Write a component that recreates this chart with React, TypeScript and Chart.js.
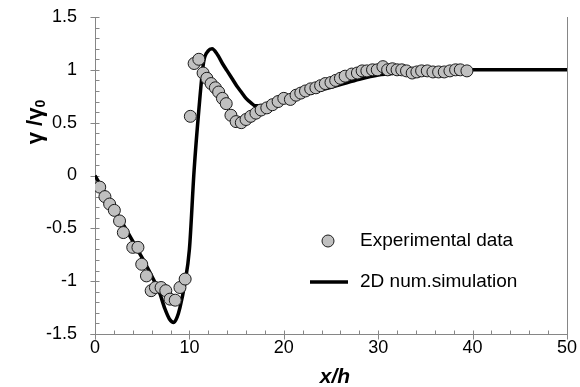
import React, { useEffect, useRef } from "react";
import { Chart, registerables } from "chart.js";

Chart.register(...registerables);

// Measured shear-rate ratio along the channel
const expX = [
  0.5, 1.05, 1.55, 2.05, 2.6, 3.0, 4.0, 4.55, 4.95, 5.45, 5.95, 6.4, 7.0, 7.5, 7.95, 8.5, 9.0, 9.55,
  10.1, 10.5, 11.0, 11.45, 11.85, 12.3, 12.75, 13.1, 13.5, 13.9, 14.4, 14.95, 15.5, 16.0, 16.5,
  17.05, 17.6, 18.2, 18.8, 19.4, 20.0, 20.7, 21.3, 21.8, 22.3, 22.85, 23.4, 23.9, 24.4, 25.0,
  25.5, 26.0, 26.5, 27.2, 27.8, 28.3, 28.8, 29.4, 29.9, 30.5, 31.0, 31.5, 32.0, 32.5, 33.0,
  33.6, 34.1, 34.6, 35.2, 35.8, 36.4, 37.0, 37.6, 38.2, 38.7, 39.4,
];
const expY = [
  -0.11, -0.2, -0.27, -0.33, -0.43, -0.54, -0.68, -0.68, -0.84, -0.95, -1.09, -1.06, -1.06, -1.09, -1.17, -1.18, -1.06, -0.98,
  0.56, 1.06, 1.1, 0.97, 0.92, 0.87, 0.83, 0.79, 0.73, 0.68, 0.57, 0.51, 0.5, 0.53, 0.56,
  0.59, 0.62, 0.64, 0.67, 0.7, 0.73, 0.72, 0.76, 0.78, 0.8, 0.82, 0.83, 0.85, 0.87, 0.88,
  0.9, 0.92, 0.94, 0.96, 0.97, 0.99, 0.99, 1.0, 1.0, 1.03, 1.0, 1.01, 1.0, 1.0, 0.99,
  0.97, 0.98, 0.99, 0.99, 0.98, 0.98, 0.98, 0.99, 1.0, 1.0, 0.99,
];

// 2D numerical simulation profile
const simX = [
  0, 2, 4, 5, 6, 6.8, 7.4, 7.9, 8.35, 8.7, 9.0, 9.5, 10.0, 10.5, 11.0, 11.5, 12.0, 12.4,
  13.0, 13.5, 14.0, 14.5, 15.0, 15.5, 16.0, 16.5, 17.0, 18.0, 19.0, 20.0, 22.0, 24.0, 26.0,
  28.0, 30.0, 32.0, 35.0, 40.0, 45.0, 50.0,
];
const simY = [
  0, -0.31, -0.62, -0.78, -0.95, -1.1, -1.26, -1.36, -1.39, -1.34, -1.25, -1.03, -0.7, 0.05, 0.62, 1.07, 1.18, 1.2,
  1.14, 1.06, 0.99, 0.92, 0.85, 0.79, 0.73, 0.69, 0.66, 0.66, 0.68, 0.71, 0.76, 0.81, 0.86,
  0.91, 0.95, 0.97, 0.99, 1.0, 1.0, 1.0,
];

const xMin = 0;
const xMax = 50;
const xStep = 10;
const xMinorStep = 2;
const yMin = -1.5;
const yMax = 1.5;
const yStep = 0.5;
const yMinorStep = 0.1;

const legendLabels = ["Experimental data", "2D num.simulation"];

const AXIS_COLOR = "#868686";
const SANS = "'Liberation Sans', Arial, sans-serif";
const POINT_FILL = "#c0c0c0";
const POINT_EDGE = "#1a1a1a";

const axesDecor = {
  id: "axesDecor",
  beforeDatasetsDraw(chart: any) {
    const { ctx, chartArea: a, scales } = chart;
    const xs = scales.x;
    const ys = scales.y;
    const L = Math.round(a.left) + 0.5;
    const R = Math.round(a.right) + 0.5;
    const B = Math.round(a.bottom) + 0.5;
    const T = Math.round(a.top);
    ctx.save();
    ctx.strokeStyle = AXIS_COLOR;
    ctx.lineWidth = 1;
    ctx.beginPath();
    // axis lines
    ctx.moveTo(L, T);
    ctx.lineTo(L, B + 5);
    ctx.moveTo(L - 5, B);
    ctx.lineTo(R, B);
    ctx.moveTo(R, B);
    ctx.lineTo(R, T);
    // y ticks
    const ny = Math.round((yMax - yMin) / yMinorStep);
    for (let i = 0; i <= ny; i++) {
      const v = yMin + i * yMinorStep;
      const p = Math.round(ys.getPixelForValue(v)) + 0.5;
      if (i % Math.round(yStep / yMinorStep) === 0) {
        ctx.moveTo(L - 5, p);
        ctx.lineTo(L + 4, p);
      } else {
        ctx.moveTo(L, p);
        ctx.lineTo(L + 4, p);
      }
    }
    // x ticks
    const nx = Math.round((xMax - xMin) / xMinorStep);
    for (let i = 0; i <= nx; i++) {
      const v = xMin + i * xMinorStep;
      const p = Math.round(xs.getPixelForValue(v)) + 0.5;
      if (i % Math.round(xStep / xMinorStep) === 0) {
        ctx.moveTo(p, B - 4);
        ctx.lineTo(p, B + 5);
      } else {
        ctx.moveTo(p, B - 4);
        ctx.lineTo(p, B);
      }
    }
    ctx.stroke();
    ctx.restore();
  },
  afterDraw(chart: any) {
    const { ctx, chartArea: a } = chart;
    ctx.save();
    ctx.fillStyle = "#000";

    // y axis title: γ /γ0
    ctx.save();
    ctx.translate(36, 122);
    ctx.rotate(-Math.PI / 2);
    ctx.textBaseline = "middle";
    ctx.textAlign = "left";
    const big = `bold 22px ${SANS}`;
    const small = `bold 14px ${SANS}`;
    ctx.font = big;
    const main = "\u03b3 /\u03b3";
    const wMain = ctx.measureText(main).width;
    ctx.font = small;
    const wSub = ctx.measureText("0").width;
    const start = -(wMain + wSub) / 2;
    ctx.font = big;
    ctx.fillText(main, start, 0);
    ctx.font = small;
    ctx.fillText("0", start + wMain, 5);
    ctx.restore();

    // x axis title
    ctx.font = `italic bold 21px ${SANS}`;
    ctx.textAlign = "center";
    ctx.textBaseline = "middle";
    ctx.fillText("x/h", (a.left + a.right) / 2 + 4, 377);

    // legend
    const lx = 328;
    const ly1 = 241;
    const ly2 = 282;
    ctx.beginPath();
    ctx.arc(lx, ly1, 6, 0, Math.PI * 2);
    ctx.fillStyle = POINT_FILL;
    ctx.fill();
    ctx.lineWidth = 1;
    ctx.strokeStyle = POINT_EDGE;
    ctx.stroke();
    ctx.beginPath();
    ctx.moveTo(310, ly2);
    ctx.lineTo(348, ly2);
    ctx.lineWidth = 3.5;
    ctx.strokeStyle = "#000";
    ctx.stroke();
    ctx.fillStyle = "#000";
    ctx.font = `19px ${SANS}`;
    ctx.textAlign = "left";
    ctx.textBaseline = "middle";
    ctx.fillText(legendLabels[0], 360, ly1);
    ctx.fillText(legendLabels[1], 360, ly2);
    ctx.restore();
  },
};

const fmt = (v: number) => String(Math.round(v * 10) / 10);

export default function App() {
  const canvasRef = useRef<HTMLCanvasElement | null>(null);

  useEffect(() => {
    const canvas = canvasRef.current;
    if (!canvas) return;
    const chart = new Chart(canvas, {
      type: "line",
      data: {
        datasets: [
          {
            type: "scatter",
            label: legendLabels[0],
            data: expX.map((x, i) => ({ x, y: expY[i] })),
            showLine: false,
            pointRadius: 6,
            pointBackgroundColor: POINT_FILL,
            pointBorderColor: POINT_EDGE,
            pointBorderWidth: 1,
            pointHoverRadius: 6,
          } as any,
          {
            type: "line",
            label: legendLabels[1],
            data: simX.map((x, i) => ({ x, y: simY[i] })),
            borderColor: "#000",
            borderWidth: 3.5,
            pointRadius: 0,
            cubicInterpolationMode: "monotone",
            fill: false,
          } as any,
        ],
      },
      options: {
        responsive: false,
        devicePixelRatio: 1,
        animation: false,
        events: [],
        layout: { padding: { top: 17, right: 11, left: 0, bottom: 0 } },
        plugins: { legend: { display: false }, tooltip: { enabled: false } },
        scales: {
          x: {
            type: "linear",
            min: xMin,
            max: xMax,
            ticks: {
              stepSize: xStep,
              color: "#000",
              font: { family: SANS, size: 18 },
              padding: 3,
              maxRotation: 0,
              callback: (v: any) => fmt(Number(v)),
            },
            grid: { display: false, drawTicks: false },
            border: { display: false },
            afterFit: (s: any) => {
              s.height = 53;
            },
          },
          y: {
            type: "linear",
            min: yMin,
            max: yMax,
            ticks: {
              stepSize: yStep,
              color: "#000",
              font: { family: SANS, size: 18 },
              padding: 0,
              callback: (v: any) => fmt(Number(v)),
            },
            // ticks themselves are drawn by axesDecor; tickLength only sets the label gap
            grid: { display: false, drawTicks: true, tickLength: 18 },
            border: { display: false },
            afterFit: (s: any) => {
              s.width = 95;
            },
          },
        },
      },
      plugins: [axesDecor],
    });
    return () => chart.destroy();
  }, []);

  return (
    <div style={{ position: "absolute", left: 0, top: 0, width: 580, height: 387, background: "#fff" }}>
      <canvas ref={canvasRef} width={580} height={387} style={{ display: "block" }} />
    </div>
  );
}
